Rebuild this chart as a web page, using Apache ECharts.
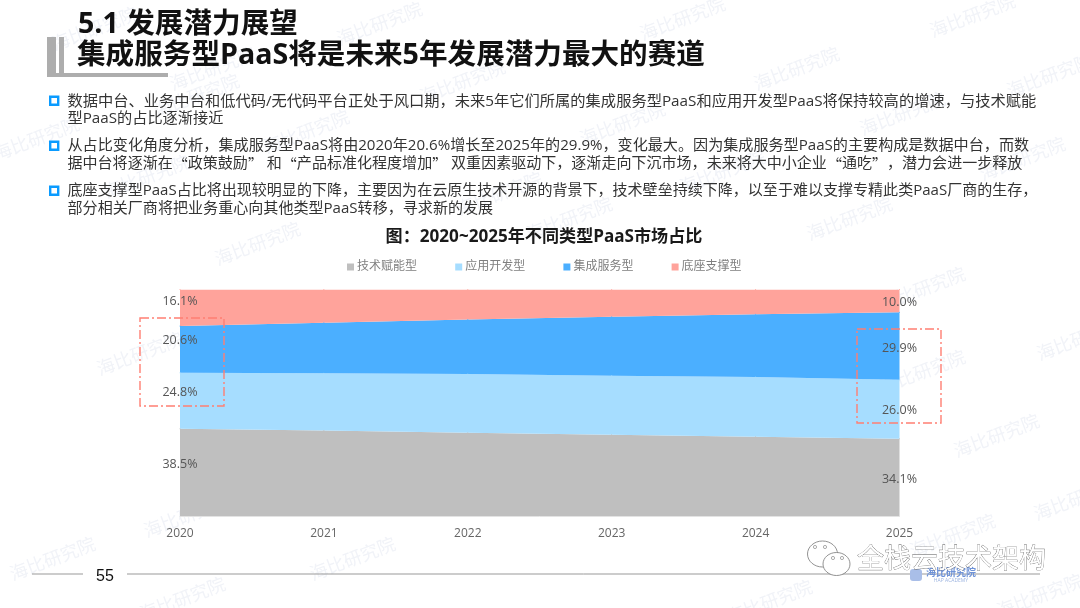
<!DOCTYPE html>
<html>
<head>
<meta charset="utf-8">
<style>html,body{margin:0;padding:0;background:#fff}#c{width:1080px;height:608px}</style>
<script src="https://cdn.jsdelivr.net/npm/echarts@6/dist/echarts.min.js"></script>
</head>
<body>
<div id="c"></div>
<script>
const years = ['2020','2021','2022','2023','2024','2025'];
const seriesNames = ['技术赋能型','应用开发型','集成服务型','底座支撑型'];
const techValues = [38.5,37.7,36.8,35.9,35.0,34.1];
const appValues = [24.8,25.3,25.9,26.0,26.4,26.0];
const integrationValues = [20.6,22.3,24.0,26.1,27.65,29.9];
const baseValues = [16.1,14.7,13.3,12.0,10.95,10.0];
const chartTitle = '图：2020~2025年不同类型PaaS市场占比';
const slideTitle1 = '5.1 发展潜力展望';
const slideTitle2 = '集成服务型PaaS将是未来5年发展潜力最大的赛道';
const bodyLines = [
  '数据中台、业务中台和低代码/无代码平台正处于风口期，未来5年它们所属的集成服务型PaaS和应用开发型PaaS将保持较高的增速，与技术赋能',
  '型PaaS的占比逐渐接近',
  '从占比变化角度分析，集成服务型PaaS将由2020年20.6%增长至2025年的29.9%，变化最大。因为集成服务型PaaS的主要构成是数据中台，而数',
  '据中台将逐渐在“政策鼓励” 和“产品标准化程度增加” 双重因素驱动下，逐渐走向下沉市场，未来将大中小企业“通吃”，潜力会进一步释放',
  '底座支撑型PaaS占比将出现较明显的下降，主要因为在云原生技术开源的背景下，技术壁垒持续下降，以至于难以支撑专精此类PaaS厂商的生存，',
  '部分相关厂商将把业务重心向其他类型PaaS转移，寻求新的发展'
];
const pageNumber = '55';
const brand = '全栈云技术架构';
const watermark = '海比研究院';

const FONT = '"Open Sans","Noto Sans CJK SC",sans-serif';
const CJK = '"Noto Sans CJK SC",sans-serif';
const COLORS = ['#BFBFBF','#A6DDFF','#4BAFFF','#FFA39B'];
const valueSets = [techValues, appValues, integrationValues, baseValues];
// vertical shift of the end labels from the top edge of their band
const startShift = [36, 20, 14, 12];
const endShift = [41, 31, 36, 13];
const bodySizes = [15.27, 15.2, 15.1, 15.04, 15.04, 15.07];
const bodyRows = [102,119,146,164,191,209];

function seriesData(vals, i){
  return vals.map((v, k) => {
    if (k === 0 || k === vals.length - 1) {
      return {
        value: v,
        label: {
          show: true,
          position: 'inside',
          offset: [0, k === 0 ? startShift[i] : endShift[i]],
          formatter: v.toFixed(1) + '%',
          color: '#555', fontSize: 12.5, fontFamily: FONT
        }
      };
    }
    return v;
  });
}

const graphics = [];
// watermarks behind chart
[[95,30],[380,25],[213,70],[197,97],[463,83],[37,140],[307,133],[147,178],[683,20],[973,17],[797,70],[1050,77],[623,125],[903,115],[1023,160],[723,173],[570,220],[850,220],[258,245],[140,355],[1080,340],[923,290],[997,437],[923,373],[53,560],[353,560],[183,600],[187,517],[953,537],[770,603],[1040,597],[1077,500],[500,195]].forEach(p => {
  graphics.push({type:'text', x:p[0], y:p[1], rotation:0.36, z:0,
    style:{text:watermark, font:'18px '+FONT, fill:'#F1F3F8', textAlign:'center', textVerticalAlign:'middle'}});
});
function text(t,x,y,size,opt){
  opt = opt||{};
  graphics.push({type:'text', x, y, z:100, style:Object.assign({
    text:t, font:(opt.weight||'normal')+' '+size+'px '+(opt.family||FONT), fill:opt.fill||'#262626',
    textAlign:opt.align||'left', textVerticalAlign:'middle'}, opt.style||{})});
}
// body line: curly quotes are drawn with the CJK font so they keep full width
function bodyLine(t,x,y,size){
  const runs = t.split(/([“”])/).filter(Boolean).map(r => (r==='“'||r==='”') ? '{q|'+r+'}' : '{n|'+r+'}').join('');
  graphics.push({type:'text', x, y, z:100, style:{
    text:runs, textAlign:'left', textVerticalAlign:'middle',
    rich:{
      n:{fontFamily:FONT,fontSize:size,fill:'#333',lineHeight:18},
      q:{fontFamily:CJK,fontSize:size,fill:'#333',lineHeight:18}
    }}});
}
// title bracket
[[47,37,9,40],[59,37,5,40],[47,73,121,4]].forEach(r => graphics.push({type:'rect', z:50,
  shape:{x:r[0],y:r[1],width:r[2],height:r[3]}, style:{fill:'#ADADAD'}}));
text(slideTitle1,78,25,28.6,{weight:'bold',fill:'#111'});
text(slideTitle2,77,56,28.6,{weight:'bold',fill:'#111'});
// bullets
[101,146,191].forEach(y => graphics.push({type:'rect', z:50,
  shape:{x:50.2,y:y-4.2,width:8,height:8}, style:{fill:'#fff',stroke:'#0A9BFF',lineWidth:2.4}}));
bodyRows.forEach((y,i) => bodyLine(bodyLines[i],67.5,y,bodySizes[i]));
// highlight boxes
[[140,318,84,88],[857,329,84,94]].forEach(r => graphics.push({type:'rect', z:90,
  shape:{x:r[0],y:r[1],width:r[2],height:r[3]},
  style:{fill:'none',stroke:'#FF7F73',lineWidth:1.4,lineDash:[9,3,2,3]}}));
// footer
[[32,83],[127,1040]].forEach(s => graphics.push({type:'line', z:40,
  shape:{x1:s[0],y1:574,x2:s[1],y2:574}, style:{stroke:'#999',lineWidth:1}}));
text(pageNumber,96,577,16,{fill:'#111',family:'"Liberation Sans",sans-serif'});
// small logo
graphics.push({type:'rect', z:60, shape:{x:910,y:569,width:12,height:12,r:3}, style:{fill:'#A9BEE8'}});
text(watermark,951,573,10,{fill:'#6F93D8',align:'center',weight:'bold'});
text('HAP ACADEMY',951,581,5,{fill:'#9DB4E0',align:'center'});
// chat icon
[[822.5,554,15,13],[836.5,564,13.5,11.5]].forEach(e => graphics.push({type:'ellipse', z:95,
  shape:{cx:e[0],cy:e[1],rx:e[2],ry:e[3]}, style:{fill:'#fff',stroke:'#777',lineWidth:0.8}}));
[[815,547],[825,547],[833,558],[842,558]].forEach(c => graphics.push({type:'circle', z:96,
  shape:{cx:c[0],cy:c[1],r:1.6}, style:{fill:'#fff',stroke:'#777',lineWidth:0.6}}));
text(brand,857,560,27,{fill:'#fff',style:{stroke:'#555',lineWidth:0.6}});

const chart = echarts.init(document.getElementById('c'), null, {renderer:'canvas'});
chart.setOption({
  animation:false,
  backgroundColor:'#fff',
  title:{text:chartTitle, left:539, top:224, textAlign:'center',
    textStyle:{fontSize:17.1,fontWeight:'bold',color:'#1a1a1a',fontFamily:FONT}},
  legend:{data:seriesNames, left:342, top:256, icon:'rect', itemWidth:7, itemHeight:7, itemGap:38.2,
    textStyle:{fontSize:12,color:'#7F7F7F',padding:[0,0,0,-2],fontFamily:FONT}},
  grid:{left:180,right:180.5,top:289.5,height:226.5,containLabel:false},
  xAxis:{type:'category',data:years,boundaryGap:false,
    axisLine:{show:true,lineStyle:{color:'#E3E3E3',width:1}},axisTick:{show:false},
    axisLabel:{color:'#666',fontSize:12,margin:12,fontFamily:FONT,hideOverlap:false},splitLine:{show:false}},
  yAxis:{type:'value',min:0,max:100,show:false},
  series:valueSets.map((vals,i)=>({
    name:seriesNames[i],type:'line',stack:'share',data:seriesData(vals,i),
    symbol:'circle',symbolSize:1,showSymbol:true,showAllSymbol:true,
    lineStyle:{width:0},
    itemStyle:{color:COLORS[i]},
    areaStyle:{color:COLORS[i],opacity:1}
  })),
  graphic:{elements:graphics}
});
</script>
</body>
</html>
